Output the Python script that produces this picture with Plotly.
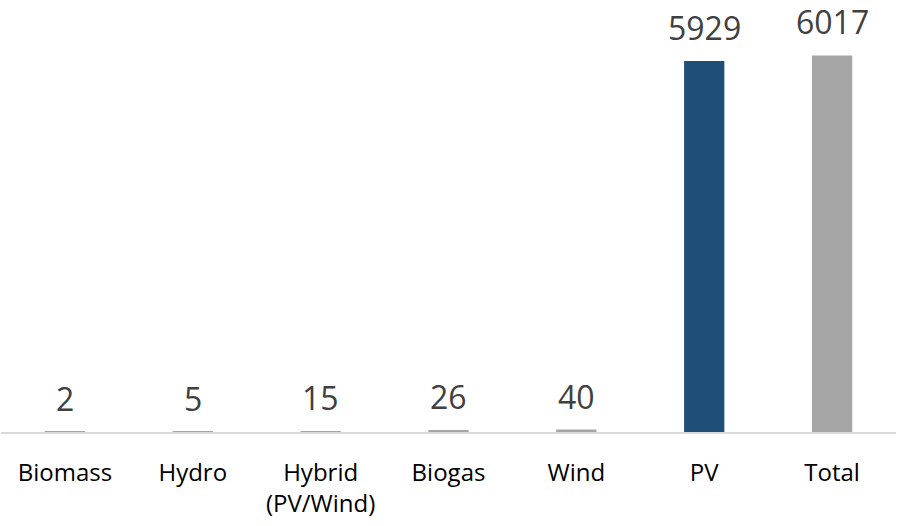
import plotly.graph_objects as go

categories = ["Biomass", "Hydro", "Hybrid<br>(PV/Wind)", "Biogas", "Wind", "PV", "Total"]
values = [2, 5, 15, 26, 40, 5929, 6017]
bar_colors = ["#A5A5A5", "#A5A5A5", "#A5A5A5", "#A5A5A5", "#A5A5A5", "#1F4E79", "#A5A5A5"]

FONT = "Open Sans"

fig = go.Figure()
fig.add_trace(go.Bar(
    x=categories, y=values,
    marker=dict(color=bar_colors, line=dict(width=0)),
    width=0.315,
    hoverinfo="skip",
))

for c, v in zip(categories, values):
    fig.add_annotation(
        x=c, y=v, text=str(v), showarrow=False,
        yanchor="bottom", yshift=10,
        font=dict(family=FONT, size=32, color="#404040"),
    )

fig.update_layout(
    width=898, height=526,
    margin=dict(l=1, r=2, t=0, b=94),
    paper_bgcolor="white", plot_bgcolor="white",
    showlegend=False,
    xaxis=dict(
        showline=True, linecolor="#D9D9D9", linewidth=2,
        ticks="outside", ticklen=18, tickcolor="rgba(0,0,0,0)",
        tickfont=dict(family=FONT, size=24, color="#000000"),
        showgrid=False, zeroline=False,
    ),
    yaxis=dict(
        range=[0, 6904], visible=False, showgrid=False, zeroline=False,
    ),
)

fig.write_html("out.html")
